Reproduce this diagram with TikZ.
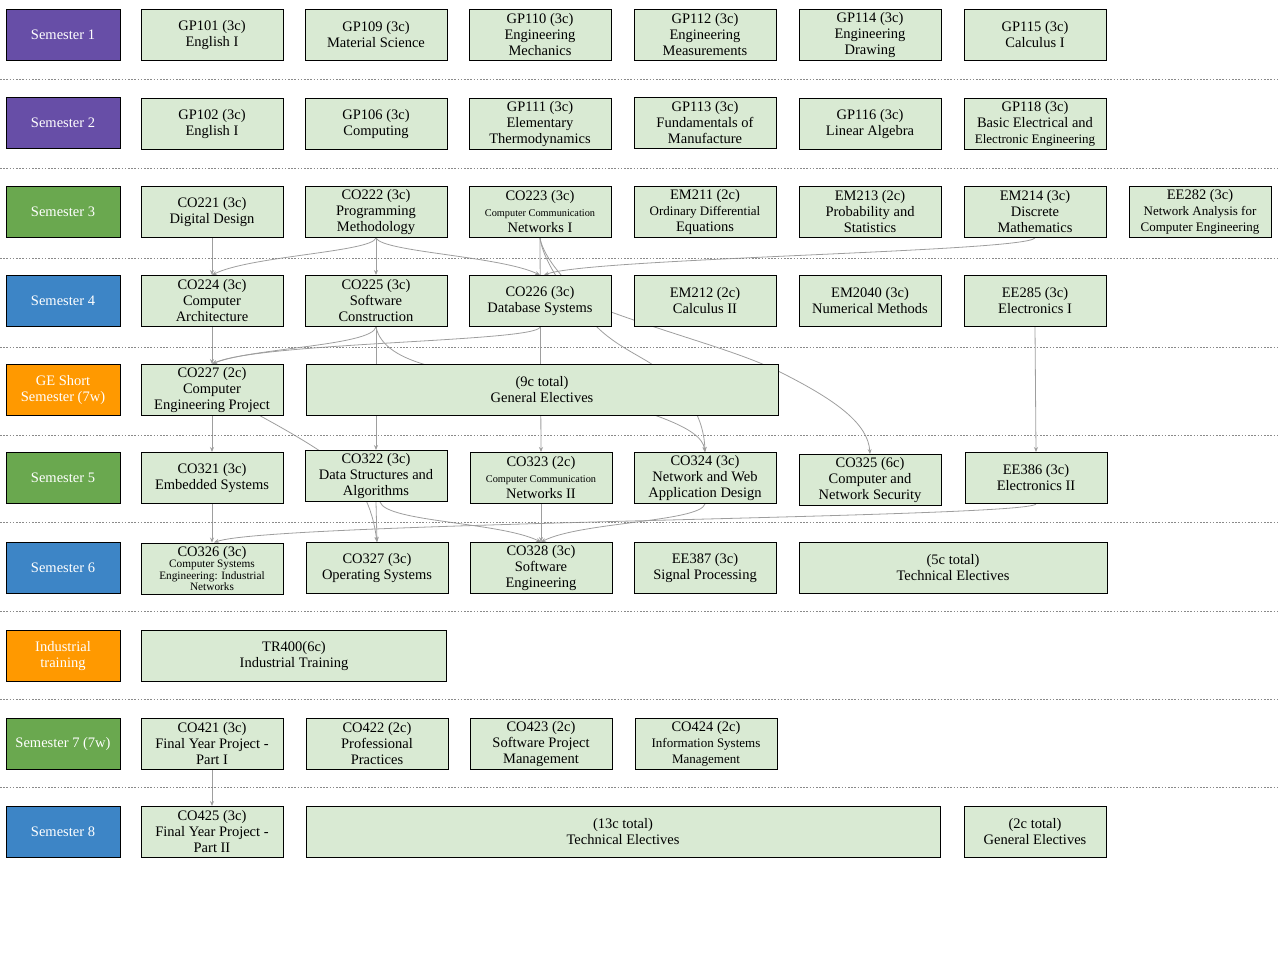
\documentclass[tikz,border=0pt]{standalone}
\usepackage{fontspec}
\setmainfont{Liberation Serif}
\usetikzlibrary{arrows.meta}
\definecolor{coursefill}{HTML}{D9EAD3}
\definecolor{sempurple}{HTML}{674EA7}
\definecolor{semgreen}{HTML}{6AA84F}
\definecolor{semblue}{HTML}{3D85C6}
\definecolor{semorange}{HTML}{FF9900}
\definecolor{linkgray}{HTML}{9E9E9E}
\definecolor{sepgray}{HTML}{8A8A8A}
\pgfdeclarelayer{background}
\pgfsetlayers{background,main}
\newcommand{\smalltxt}[1]{{\fontsize{10.3}{12}\selectfont #1}}
\newcommand{\midtxt}[1]{{\fontsize{13}{15}\selectfont #1}}
\newcommand{\bigtxt}[1]{{\fontsize{14.5}{16}\selectfont #1}}
\begin{document}
\begin{tikzpicture}[x=1pt,y=-1pt,
  box/.style={draw=black, line width=0.9pt, inner sep=0pt, align=center,
    minimum height=51pt, font=\fontsize{14.5}{16}\selectfont},
  course/.style={box, fill=coursefill, minimum width=142pt, text=black},
  semlabel/.style={box, minimum width=114pt, text=white},
  purplesem/.style={semlabel, fill=sempurple},
  greensem/.style={semlabel, fill=semgreen},
  bluesem/.style={semlabel, fill=semblue},
  orangesem/.style={semlabel, fill=semorange},
  sep/.style={sepgray, line width=0.6pt, dash pattern=on 1.6pt off 1.6pt},
  link/.style={linkgray, line width=0.8pt, -{Stealth[length=5pt,width=4pt]}}]
\useasboundingbox (0,0) rectangle (1280,960);

% row separators
\foreach \y in {79,168,258,347,435,522,611,699,787}
  \draw[sep] (0,\y) -- (1280,\y);

% Semester 1
\node[purplesem] (sem1) at (63,35) {Semester 1};
\node[course] (gp101) at (212,35) {GP101 (3c)\\English I};
\node[course] (gp109) at (376,35) {GP109 (3c)\\Material Science};
\node[course] (gp110) at (540,35) {GP110 (3c)\\Engineering\\Mechanics};
\node[course] (gp112) at (705,35) {GP112 (3c)\\Engineering\\Measurements};
\node[course] (gp114) at (870,35) {GP114 (3c)\\Engineering\\Drawing};
\node[course] (gp115) at (1035,35) {GP115 (3c)\\Calculus I};

% Semester 2
\node[purplesem] (sem2) at (63,123) {Semester 2};
\node[course] (gp102) at (212,124) {GP102 (3c)\\English I};
\node[course] (gp106) at (376,124) {GP106 (3c)\\Computing};
\node[course] (gp111) at (540,124) {GP111 (3c)\\Elementary\\Thermodynamics};
\node[course] (gp113) at (705,123) {GP113 (3c)\\Fundamentals of\\Manufacture};
\node[course] (gp116) at (870,124) {GP116 (3c)\\Linear Algebra};
\node[course] (gp118) at (1035,124) {GP118 (3c)\\Basic Electrical and\\\midtxt{Electronic Engineering}};

% Semester 3
\node[greensem] (sem3) at (63,212) {Semester 3};
\node[course] (co221) at (212,212) {CO221 (3c)\\Digital Design};
\node[course] (co222) at (376,212) {CO222 (3c)\\Programming\\Methodology};
\node[course] (co223) at (540,212) {CO223 (3c)\\\smalltxt{Computer Communication}\\Networks I};
\node[course] (em211) at (705,212) {EM211 (2c)\\\midtxt{Ordinary Differential}\\Equations};
\node[course] (em213) at (870,212) {EM213 (2c)\\Probability and\\Statistics};
\node[course] (em214) at (1035,212) {EM214 (3c)\\Discrete\\Mathematics};
\node[course] (ee282) at (1200,212) {EE282 (3c)\\\midtxt{Network Analysis for}\\\midtxt{Computer Engineering}};

% Semester 4
\node[bluesem] (sem4) at (63,301) {Semester 4};
\node[course] (co224) at (212,301) {CO224 (3c)\\Computer\\Architecture};
\node[course] (co225) at (376,301) {CO225 (3c)\\Software\\Construction};
\node[course] (co226) at (540,301) {CO226 (3c)\\Database Systems};
\node[course] (em212) at (705,301) {EM212 (2c)\\Calculus II};
\node[course] (em2040) at (870,301) {EM2040 (3c)\\Numerical Methods};
\node[course] (ee285) at (1035,301) {EE285 (3c)\\Electronics I};

% GE short semester
\node[orangesem] (gesem) at (63,390) {GE Short\\Semester (7w)};
\node[course] (co227) at (212,390) {CO227 (2c)\\Computer\\Engineering Project};
\node[course, minimum width=472pt] (gen5) at (542,390) {(9c total)\\General Electives};

% Semester 5
\node[greensem] (sem5) at (63,478) {Semester 5};
\node[course] (co321) at (212,478) {CO321 (3c)\\Embedded Systems};
\node[course] (co322) at (376,476) {CO322 (3c)\\Data Structures and\\Algorithms};
\node[course] (co323) at (541,478) {CO323 (2c)\\\smalltxt{Computer Communication}\\Networks II};
\node[course] (co324) at (705,478) {CO324 (3c)\\Network and Web\\Application Design};
\node[course] (co325) at (870,480) {CO325 (6c)\\Computer and\\Network Security};
\node[course] (ee386) at (1036,478) {EE386 (3c)\\Electronics II};

% Semester 6
\node[bluesem] (sem6) at (63,568) {Semester 6};
\node[course, font=\fontsize{11.3}{11.3}\selectfont] (co326) at (212,568.5)
  {\bigtxt{CO326 (3c)}\\Computer Systems\\Engineering: Industrial\\Networks};
\node[course] (co327) at (377,568) {CO327 (3c)\\Operating Systems};
\node[course] (co328) at (541,568) {CO328 (3c)\\Software\\Engineering};
\node[course] (ee387) at (705,568) {EE387 (3c)\\Signal Processing};
\node[course, minimum width=308pt] (tech6) at (953,568) {(5c total)\\Technical Electives};

% Industrial training
\node[orangesem] (indsem) at (63,656) {Industrial\\training};
\node[course, minimum width=305pt] (tr400) at (294,656) {TR400(6c)\\Industrial Training};

% Semester 7
\node[greensem] (sem7) at (63,744) {Semester 7 (7w)};
\node[course] (co421) at (212,744) {CO421 (3c)\\Final Year Project -\\Part I};
\node[course] (co422) at (377,744) {CO422 (2c)\\Professional\\Practices};
\node[course] (co423) at (541,744) {CO423 (2c)\\Software Project\\Management};
\node[course] (co424) at (706,744) {CO424 (2c)\\\midtxt{Information Systems}\\\midtxt{Management}};

% Semester 8
\node[bluesem] (sem8) at (63,832) {Semester 8};
\node[course] (co425) at (212,832) {CO425 (3c)\\Final Year Project -\\Part II};
\node[course, minimum width=634pt] (tech8) at (623,832) {(13c total)\\Technical Electives};
\node[course] (gen8) at (1035,832) {(2c total)\\General Electives};

% prerequisite links, drawn beneath the boxes
\begin{pgfonlayer}{background}
  % into semester 4
  \draw[link] (co221.south) -- (co224.north);
  \draw[link] (co222.south) .. controls (372,252) and (250,256) .. (co224.north);
  \draw[link] (co222.south) -- (co225.north);
  \draw[link] (co222.south) .. controls (382,252) and (500,256) .. (co226.north);
  \draw[link] (co223.south) -- (co323.north);
  \draw[link] (em214.south) .. controls (1025,252) and (590,258) .. ([xshift=4pt]co226.north);
  \draw[link] (co223.south) .. controls (543,262) and (570,300) .. (597,327)
     .. controls (615,345) and (640,356) .. (653,365)
     .. controls (690,392) and (704,420) .. (co324.north);
  \draw[link] (co223.south) .. controls (543,258) and (575,298) .. (611,312)
     .. controls (680,337) and (740,352) .. (780,372)
     .. controls (840,402) and (868,425) .. (co325.north);
  % into the short semester and semester 5
  \draw[link] (co224.south) -- (co227.north);
  \draw[link] (co225.south) .. controls (372,346) and (250,348) .. (co227.north);
  \draw[link] (co226.south) .. controls (538,342) and (260,342) .. (co227.north);
  \draw[link] (co225.south) -- (co322.north);
  \draw[link] (co225.south) .. controls (380,346) and (400,358) .. (430,366)
     .. controls (520,390) and (620,405) .. (657,416)
     .. controls (690,428) and (703,438) .. (co324.north);
  \draw[link] (ee285.south) -- (ee386.north);
  \draw[link] (co227.south) -- (co321.north);
  \draw[link] (co227.center) .. controls (240,405) and (300,436) .. (330,458)
     .. controls (360,480) and (372,505) .. (co327.north);
  % into semester 6
  \draw[link] (co321.south) -- (co326.north);
  \draw[link] (co322.south) -- (co327.north);
  \draw[link] ([xshift=4pt]co322.south) .. controls (386,522) and (500,522) .. (co328.north);
  \draw[link] (co323.south) -- (co328.north);
  \draw[link] (co324.south) .. controls (700,522) and (580,522) .. (co328.north);
  \draw[link] (ee386.south) .. controls (1028,518) and (270,522) .. ([xshift=2pt]co326.north);
  % into semester 8
  \draw[link] (co421.south) -- (co425.north);
\end{pgfonlayer}
\end{tikzpicture}
\end{document}
